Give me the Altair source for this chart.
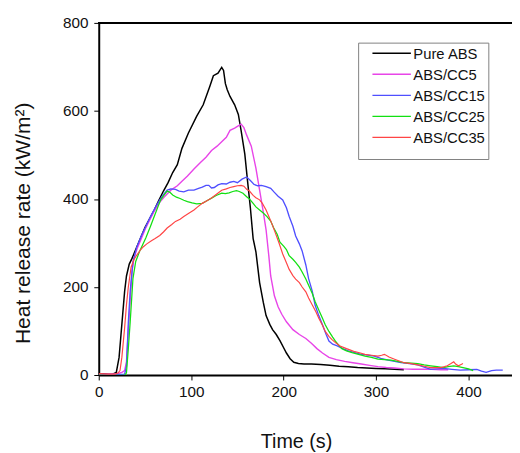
import altair as alt
import pandas as pd

series_names = ["Pure ABS", "ABS/CC5", "ABS/CC15", "ABS/CC25", "ABS/CC35"]
series_colors = ["#000000", "#e845e8", "#4f4fff", "#12e012", "#ff4545"]
series_widths = [1.5, 1.2, 1.2, 1.2, 1.2]

x_ticks = [0, 100, 200, 300, 400]
y_ticks = [0, 200, 400, 600, 800]

pure_t = [0, 5, 10, 15, 19, 22, 24, 26, 28, 30, 33, 36, 40, 45, 50, 55, 60, 65, 70, 75, 80, 85, 90, 97,
          106, 113, 120, 124, 129, 133, 135, 137, 139, 142, 147, 151, 154, 158, 161, 164, 167, 170, 174,
          178, 181, 185, 188, 192, 196, 200, 203, 207, 211, 216, 222, 230, 240, 250, 260, 270, 280, 290,
          300, 310, 320, 330]
pure_v = [3, 3, 2, 2, 6, 40, 90, 140, 190, 225, 252, 265, 285, 310, 335, 355, 375, 397, 418, 437, 460,
          478, 515, 550, 588, 614, 655, 680, 686, 699, 692, 662, 648, 633, 614, 592, 555, 502, 440, 380,
          310, 280, 210, 165, 135, 115, 103, 92, 78, 62, 50, 37, 29, 26, 25, 25, 24, 22, 20, 19, 17, 16,
          15, 14, 13, 12]

cc5_t = [0, 10, 20, 25, 28, 30, 32, 34, 36, 38, 42, 47, 51, 55, 60, 65, 71, 78, 85, 90, 96, 103, 110,
         116, 122, 128, 133, 138, 142, 147, 150, 154, 157, 160, 165, 170, 174, 178, 181, 184, 186, 190,
         194, 198, 203, 210, 217, 224, 230, 236, 242, 249, 257, 266, 275, 284, 293, 302, 311, 320, 330,
         340, 350, 360, 370, 378]
cc5_v = [2, 2, 3, 6, 10, 30, 100, 170, 235, 265, 290, 315, 335, 352, 372, 390, 405, 420, 430, 440, 452,
         468, 483, 495, 510, 520, 530, 540, 556, 561, 565, 570, 562, 545, 520, 470, 420, 370, 330, 270,
         225, 180, 155, 138, 121, 103, 92, 83, 72, 60, 50, 40, 35, 31, 28, 25, 22, 19, 17, 16, 14, 13,
         13, 13, 12, 12]

cc15_t = [0, 10, 20, 28, 30, 32, 34, 37, 41, 46, 51, 56, 61, 66, 70, 74, 78, 83, 87, 92, 97, 103, 108,
          112, 116, 119, 122, 125, 129, 133, 138, 142, 146, 150, 155, 160, 164, 168, 172, 176, 181, 186,
          190, 194, 199, 203, 206, 210, 213, 217, 220, 224, 227, 231, 234, 238, 242, 246, 249, 253, 258,
          264, 270, 277, 284, 291, 298, 305, 313, 320, 327, 336, 345, 352, 359, 366, 373, 382, 391, 400,
          409, 414, 419, 425, 430, 437]
cc15_v = [2, 1, 1, 2, 20, 120, 190, 257, 290, 316, 338, 360, 380, 398, 410, 420, 423, 422, 418, 416,
          420, 420, 424, 427, 431, 431, 425, 426, 432, 435, 434, 438, 440, 437, 445, 450, 442, 433, 430,
          431, 428, 424, 415, 406, 398, 380, 360, 338, 316, 298, 282, 250, 219, 190, 159, 135, 114, 92,
          77, 70, 66, 60, 55, 51, 47, 45, 43, 38, 34, 31, 28, 26, 23, 18, 13, 14, 15, 13, 11, 12, 13, 9,
          6, 10, 11, 11]

cc25_t = [0, 10, 20, 28, 30, 32, 34, 37, 40, 44, 51, 56, 60, 64, 67, 71, 74, 77, 80, 84, 88, 92, 96,
          101, 106, 112, 117, 122, 127, 133, 137, 141, 145, 149, 152, 156, 160, 163, 167, 170, 174, 178,
          182, 186, 189, 193, 196, 200, 203, 206, 210, 213, 217, 220, 224, 227, 231, 234, 238, 242, 245,
          249, 253, 256, 260, 263, 268, 274, 281, 288, 295, 302, 309, 316, 323, 330, 338, 345, 352, 359,
          366, 373, 378, 384, 389, 394, 400, 405]
cc25_v = [0, -1, -1, -1, 5, 60, 120, 219, 258, 280, 312, 338, 360, 382, 398, 410, 418, 415, 409, 404,
          401, 397, 394, 391, 389, 390, 396, 402, 408, 413, 412, 414, 417, 419, 417, 413, 405, 400, 390,
          382, 375, 368, 360, 350, 335, 320, 302, 293, 285, 271, 263, 256, 245, 234, 218, 204, 185, 167,
          148, 129, 114, 99, 86, 77, 67, 60, 55, 51, 47, 43, 40, 36, 35, 34, 31, 28, 27, 26, 23, 21, 19,
          17, 19, 21, 19, 17, 14, 10]

cc35_t = [0, 10, 18, 21, 23, 25, 28, 30, 32, 35, 38, 41, 45, 48, 52, 57, 61, 66, 70, 74, 79, 83, 88,
          92, 97, 103, 107, 112, 117, 122, 127, 133, 138, 142, 146, 150, 154, 157, 160, 163, 167, 170,
          174, 177, 181, 184, 188, 191, 195, 199, 203, 206, 210, 213, 217, 220, 224, 227, 231, 235, 238,
          242, 245, 249, 252, 257, 261, 268, 273, 277, 283, 288, 295, 302, 306, 309, 314, 320, 325, 330,
          338, 345, 352, 359, 365, 370, 374, 377, 381, 384, 386, 389, 392, 394]
cc35_v = [3, 2, 2, 5, 10, 40, 107, 160, 200, 245, 262, 272, 284, 291, 298, 305, 310, 317, 325, 334,
          342, 349, 354, 360, 367, 375, 382, 390, 396, 402, 410, 420, 423, 426, 428, 430, 431, 429, 422,
          418, 408, 403, 398, 390, 375, 360, 340, 323, 300, 275, 255, 240, 226, 218, 210, 200, 189, 175,
          159, 143, 129, 113, 99, 88, 81, 72, 66, 60, 56, 53, 50, 47, 45, 43, 45, 47, 41, 36, 32, 28, 26,
          23, 20, 17, 17, 17, 19, 21, 26, 30, 25, 21, 24, 26]

all_t = [pure_t, cc5_t, cc15_t, cc25_t, cc35_t]
all_v = [pure_v, cc5_v, cc15_v, cc25_v, cc35_v]

rows = []
for name, ts, vs in zip(series_names, all_t, all_v):
    for t, v in zip(ts, vs):
        rows.append({"series": name, "t": t, "v": v})
df = pd.DataFrame(rows)

FONT = "Liberation Sans"

lines = alt.Chart(df).mark_line(clip=True).encode(
    x=alt.X("t:Q", scale=alt.Scale(domain=[0, 447], nice=False, zero=False),
            axis=alt.Axis(values=x_ticks, title="Time (s)", format="d",
                          titleX=200, titleY=73, titleBaseline="alphabetic", titleAlign="center",
                          titleFontSize=20, labelPadding=5, labelFlush=False)),
    y=alt.Y("v:Q", scale=alt.Scale(domain=[0, 800], nice=False),
            axis=alt.Axis(values=y_ticks, title="Heat release rate (kW/m²)", format="d",
                          titleAngle=270, titleX=-70, titleY=202.7, titleBaseline="alphabetic",
                          titleAlign="center", titleFontSize=21.3, labelPadding=6, labelFlush=False)),
    color=alt.Color("series:N", sort=series_names,
                    scale=alt.Scale(domain=series_names, range=series_colors),
                    legend=alt.Legend(orient="none", legendX=263, legendY=20, title=" ",
                                      titleOrient="bottom", titleFontSize=8, titlePadding=2,
                                      symbolType="M-0.128,-0.432L2.99,-0.432", symbolSize=625,
                                      symbolStrokeWidth=1, labelFontSize=15, labelFont=FONT,
                                      labelBaseline="alphabetic", labelOffset=26.4, padding=2.6,
                                      rowPadding=4.35, strokeColor="#808080", fillColor="white",
                                      labelColor="#111111")),
    strokeWidth=alt.StrokeWidth("series:N", scale=alt.Scale(domain=series_names, range=series_widths),
                                legend=None),
)

frame = alt.Chart(df).mark_rule(color="black", strokeWidth=2).encode(y=alt.datum(800))

chart = alt.layer(lines, frame).properties(
    width=419, height=357,
    padding={"left": 92, "top": 12, "right": 0, "bottom": 80},
    autosize=alt.AutoSizeParams(type="none"),
).configure_view(stroke=None).configure_axis(
    grid=False, domainColor="#000000", domainWidth=2, tickColor="#000000", tickWidth=1, tickSize=5,
    labelFont=FONT, labelFontSize=15.5, labelColor="#111111",
    titleFont=FONT, titleFontWeight="normal", titleColor="#111111",
)

chart.save("out.html", embed_options={"renderer": "svg", "actions": False})
